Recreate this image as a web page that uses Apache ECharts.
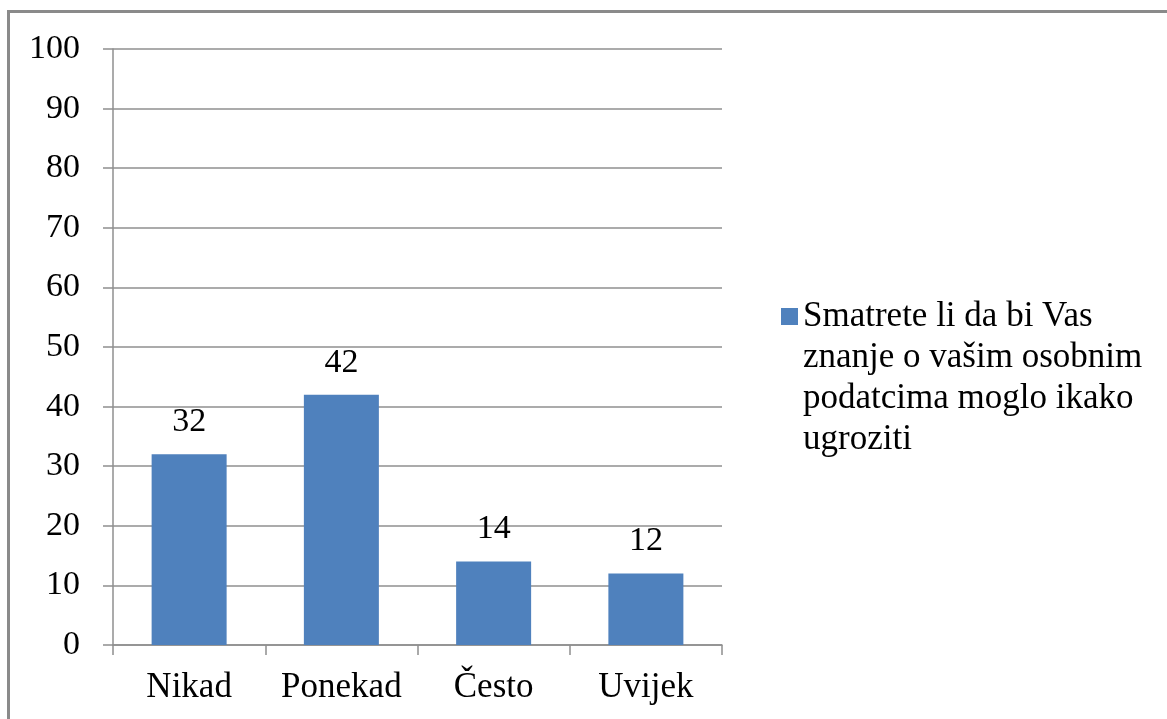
<!DOCTYPE html>
<html>
<head>
<meta charset="utf-8">
<script src="https://cdn.jsdelivr.net/npm/echarts@6/dist/echarts.min.js"></script>
<style>
html,body{margin:0;padding:0;background:#fff;}
#chart{width:1167px;height:719px;}
</style>
</head>
<body>
<div id="chart"></div>
<script>
var categories = ['Nikad', 'Ponekad', 'Često', 'Uvijek'];
var values = [32, 42, 14, 12];
var seriesName = 'Smatrete li da bi Vas\nznanje o vašim osobnim\npodatcima moglo ikako\nugroziti';
var yTicks = {min: 0, max: 100, step: 10};

var font = '"Liberation Serif", "Times New Roman", serif';
var gray = '#8f8f8f';

var chart = echarts.init(document.getElementById('chart'));
var option = {
    animation: false,
    backgroundColor: '#fff',
    textStyle: {fontFamily: font},
    grid: {left: 113, right: 445, top: 49, bottom: 74, containLabel: false},
    legend: {
        data: [seriesName],
        left: 776,
        top: 168,
        orient: 'vertical',
        itemWidth: 17,
        itemHeight: 17,
        icon: 'rect',
        selectedMode: false,
        // blank lines on top so the square sits next to the first line
        formatter: function (name) {
            return '\n\n\n' + name;
        },
        textStyle: {
            fontFamily: font,
            fontSize: 35,
            color: '#000',
            lineHeight: 41
        }
    },
    xAxis: {
        type: 'category',
        data: categories,
        boundaryGap: true,
        axisLine: {show: true, lineStyle: {color: gray, width: 1.5}},
        axisTick: {show: true, interval: 0, length: 10, lineStyle: {color: gray, width: 1.5}},
        axisLabel: {interval: 0, color: '#000', fontSize: 35, fontFamily: font, margin: 25}
    },
    yAxis: {
        type: 'value',
        min: yTicks.min,
        max: yTicks.max,
        interval: yTicks.step,
        axisLine: {show: true, lineStyle: {color: gray, width: 1.5}},
        axisTick: {show: true, length: 10, lineStyle: {color: gray, width: 1.5}},
        splitLine: {show: true, lineStyle: {color: gray, width: 1.5}},
        axisLabel: {color: '#000', fontSize: 34, fontFamily: font, margin: 33}
    },
    series: [{
        name: seriesName,
        type: 'bar',
        data: values,
        barWidth: 75,
        itemStyle: {color: '#4f81bd'},
        label: {
            show: true,
            position: 'top',
            distance: 15,
            color: '#000',
            fontSize: 34,
            fontFamily: font
        }
    }],
    graphic: [{
        type: 'rect',
        silent: true,
        shape: {x: 8.5, y: 11.5, width: 1300, height: 900},
        style: {fill: 'none', stroke: '#8a8a8a', lineWidth: 3}
    }]
};
chart.setOption(option);
</script>
</body>
</html>
